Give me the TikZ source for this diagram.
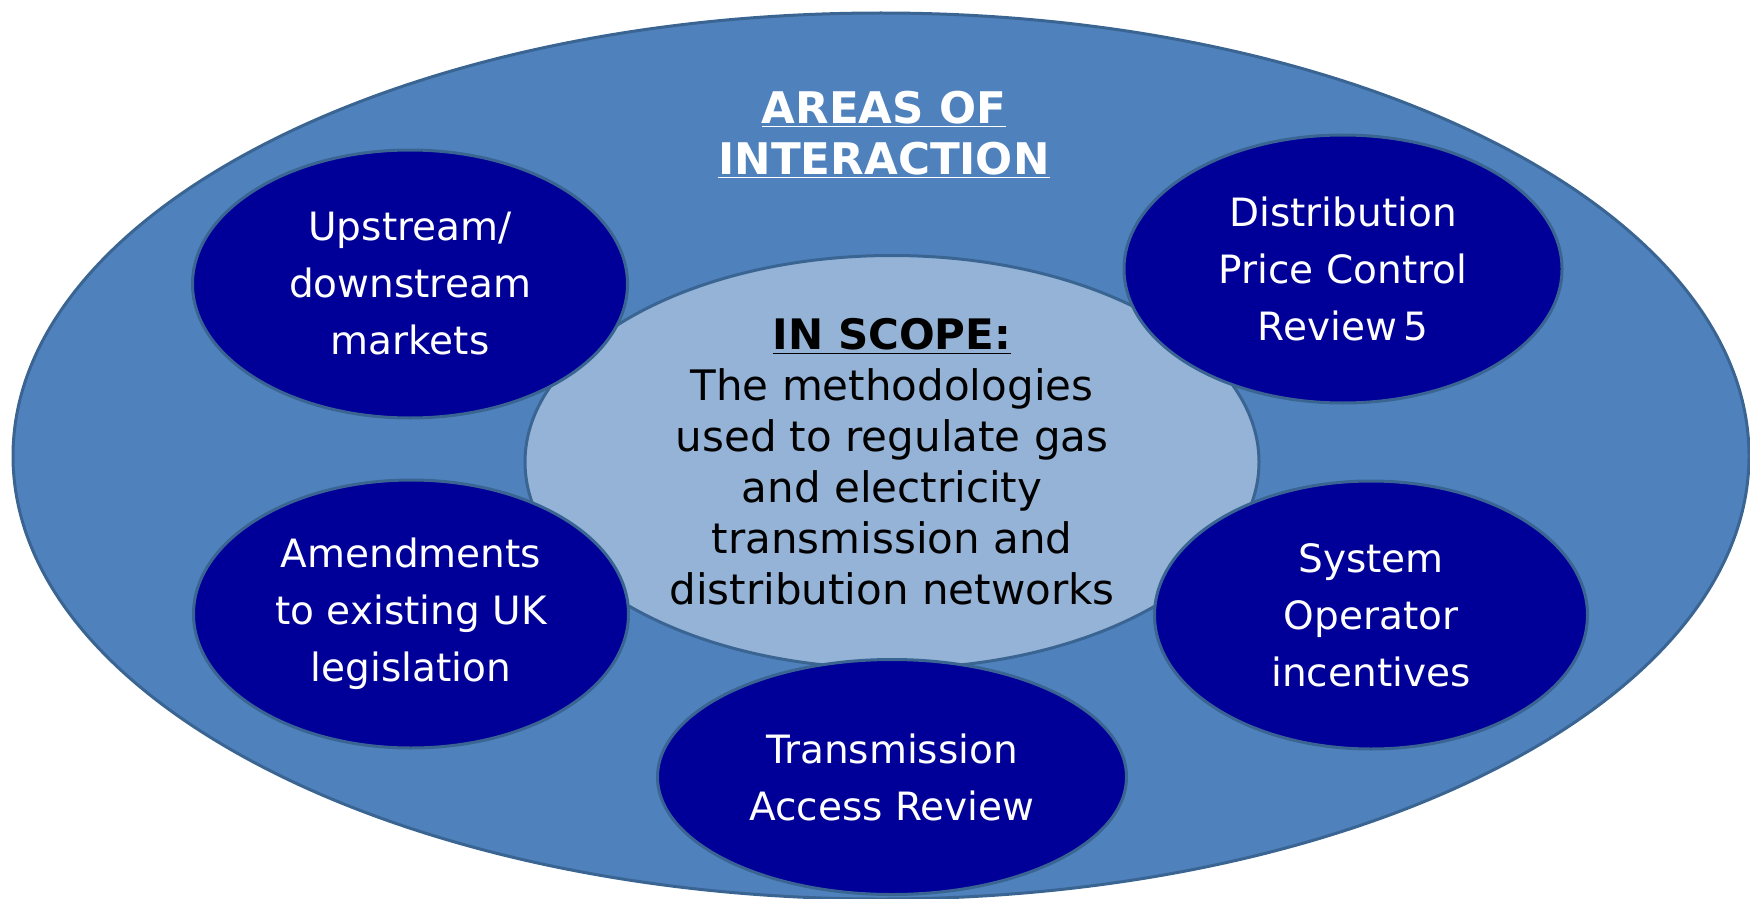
\documentclass[tikz,border=0pt]{standalone}
\usepackage{fontspec}
\setmainfont{DejaVu Sans}
\usetikzlibrary{shapes.geometric}
\definecolor{outerblue}{HTML}{4F81BD}
\definecolor{innerblue}{HTML}{95B3D7}
\definecolor{navy}{HTML}{000099}
\definecolor{edgeblue}{HTML}{3A6592}
\begin{document}
\begin{tikzpicture}[x=0.5pt,y=-0.5pt,
  blob/.style={ellipse, draw=edgeblue, line width=1.5pt, inner sep=0pt},
  area/.style={blob, fill=navy, text=white, align=center,
    font=\fontsize{19.5}{28.5}\selectfont},
]
\useasboundingbox (0,0) rectangle (1750,899);
\node[blob, fill=outerblue, minimum width=868pt, minimum height=443pt] (outer) at (881,456) {};
\node[blob, fill=innerblue, minimum width=367pt, minimum height=206.5pt, align=center,
  font=\fontsize{21}{25.5}\selectfont] (scope) at (892,462)
  {\underline{\textbf{IN SCOPE:}}\\The methodologies\\used to regulate gas\\and electricity\\transmission and\\distribution networks};
\node[area, minimum width=217.5pt, minimum height=134pt] (up) at (410,284) {Upstream/\\downstream\\markets};
\node[area, minimum width=219pt, minimum height=134pt] (dist) at (1343,269) {Distribution\\Price Control\\Review\,5};
\node[area, minimum width=217.5pt, minimum height=134pt] (amend) at (411,614) {Amendments\\to existing UK\\legislation};
\node[area, minimum width=216.5pt, minimum height=134pt] (sys) at (1371,615) {System\\Operator\\incentives};
\node[area, minimum width=234.5pt, minimum height=117.5pt] (trans) at (892,777) {Transmission\\Access Review};
\node[text=white, align=center, font=\bfseries\fontsize{21.8}{25.5}\selectfont] (title) at (884,135)
  {\underline{AREAS OF}\\\underline{INTERACTION}};
\end{tikzpicture}
\end{document}
